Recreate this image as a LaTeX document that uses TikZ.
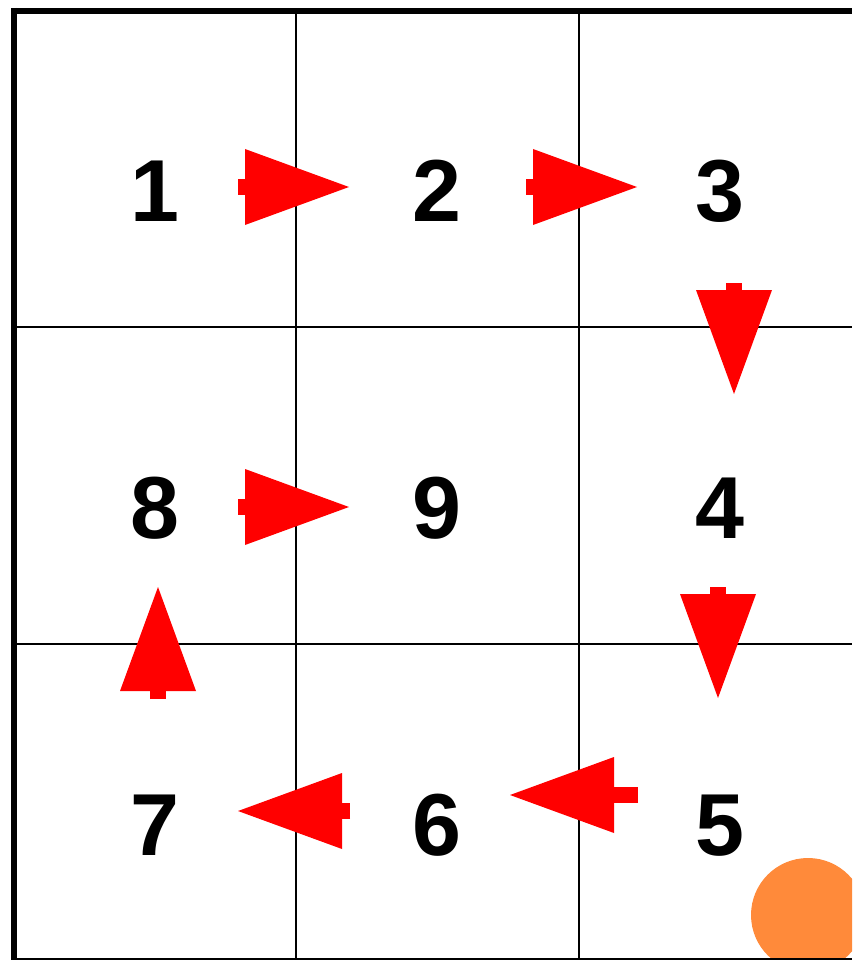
\documentclass[tikz,border=0pt]{standalone}
\usepackage{fontspec}
\setmainfont{Liberation Sans}
\usetikzlibrary{arrows.meta}
\definecolor{dotorange}{RGB}{255,138,58}
\definecolor{arrred}{RGB}{255,0,0}
\tikzset{
  x=1pt,y=1pt,
  digit/.style={inner sep=0pt,outer sep=0pt,anchor=base,font=\bfseries\fontsize{88}{88}\selectfont},
  thin grid/.style={line width=2pt,black},
  thick grid/.style={line width=6pt,black},
  movearrow/.style={arrred,line width=16pt,line cap=butt,
    -{Triangle[length=104pt,width=76pt,line width=0pt]}},
}
\begin{document}
\begin{tikzpicture}
\useasboundingbox (0,0) rectangle (852,-960);
\clip (0,0) rectangle (852,-960);
% orange disc
\fill[dotorange] (808,-915) circle (57);
% grid
\draw[thin grid] (296,-11) -- (296,-960);
\draw[thin grid] (579,-11) -- (579,-960);
\draw[thin grid] (14,-327) -- (852,-327);
\draw[thin grid] (14,-644) -- (852,-644);
\draw[thin grid] (14,-959) -- (852,-959);
\draw[thick grid] (14,-8) -- (14,-960);
\draw[thick grid] (11,-11) -- (852,-11);
% numbers
\node[digit] (n1) at (155,-221) {1};
\node[digit] (n2) at (437,-221) {2};
\node[digit] (n3) at (720,-221) {3};
\node[digit] (n8) at (155,-538) {8};
\node[digit] (n9) at (437,-538) {9};
\node[digit] (n4) at (720,-538) {4};
\node[digit] (n7) at (155,-855) {7};
\node[digit] (n6) at (437,-855) {6};
\node[digit] (n5) at (720,-855) {5};
% arrow end points
\coordinate (a1s) at (238,-187); \coordinate (a1e) at (349,-187);
\coordinate (a2s) at (526,-187); \coordinate (a2e) at (637,-187);
\coordinate (a3s) at (734,-283); \coordinate (a3e) at (734,-394);
\coordinate (a4s) at (718,-587); \coordinate (a4e) at (718,-698);
\coordinate (a5s) at (638,-795); \coordinate (a5e) at (510,-795);
\coordinate (a6s) at (350,-811); \coordinate (a6e) at (238,-811);
\coordinate (a7s) at (158,-699); \coordinate (a7e) at (158,-587);
\coordinate (a8s) at (238,-507); \coordinate (a8e) at (349,-507);
% arrows
\draw[movearrow] (a1s) -- (a1e);
\draw[movearrow] (a2s) -- (a2e);
\draw[movearrow] (a3s) -- (a3e);
\draw[movearrow] (a4s) -- (a4e);
\draw[movearrow] (a5s) -- (a5e);
\draw[movearrow] (a6s) -- (a6e);
\draw[movearrow] (a7s) -- (a7e);
\draw[movearrow] (a8s) -- (a8e);
\end{tikzpicture}
\end{document}
